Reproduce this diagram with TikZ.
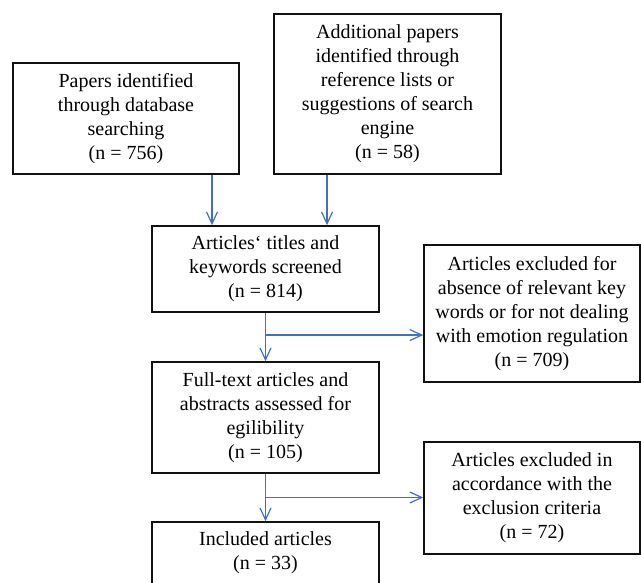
\documentclass[tikz,border=0pt]{standalone}
\usepackage{fontspec}
\setmainfont{Liberation Serif}
\usepackage{xcolor}
\usepackage{tikz}
\usetikzlibrary{positioning, arrows.meta, calc}
\definecolor{flowblue}{HTML}{3F6FC6}
\definecolor{boxline}{HTML}{111111}

\begin{document}
\begin{tikzpicture}[x=1pt, y=-1pt,
  stagebox/.style={draw=boxline, line width=1.5pt, align=center, inner sep=0pt,
    font=\fontsize{20}{24}\selectfont},
  flow/.style={draw=flowblue, line width=1.2pt,
    -{Straight Barb[length=12pt, width=11pt, line width=1.2pt]}}]
  \useasboundingbox (0,0) rectangle (641,582);
  % identification
  \node[stagebox, minimum width=226pt, minimum height=111pt] (dbsearch) at (126,118.5)
    {Papers identified\\through database\\searching\\(n = 756)};
  \node[stagebox, minimum width=227pt, minimum height=160pt] (extra) at (387.5,94)
    {Additional papers\\identified through\\reference lists or\\suggestions of search\\engine\\(n = 58)};
  % screening
  \node[stagebox, minimum width=227pt, minimum height=86pt] (screened) at (265.5,269)
    {Articles‘ titles and\\keywords screened\\(n = 814)};
  \node[stagebox, minimum width=216pt, minimum height=137pt] (exclA) at (532,313.5)
    {Articles excluded for\\absence of relevant key\\words or for not dealing\\with emotion regulation\\(n = 709)};
  % eligibility
  \node[stagebox, minimum width=227pt, minimum height=111pt] (fulltext) at (265.5,417.5)
    {Full-text articles and\\abstracts assessed for\\egilibility\\(n = 105)};
  \node[stagebox, minimum width=216pt, minimum height=112pt] (exclB) at (532,498)
    {Articles excluded in\\accordance with the\\exclusion criteria\\(n = 72)};
  % included
  \node[stagebox, minimum width=227pt, minimum height=62pt] (included) at (265.5,553)
    {Included articles\\(n = 33)};

  \draw[flow] ([xshift=86pt]dbsearch.south) -- ([xshift=86pt]dbsearch.south |- screened.north);
  \draw[flow] ([xshift=-60.5pt]extra.south) -- ([xshift=-60.5pt]extra.south |- screened.north);
  \draw[flow] (screened.south) -- (fulltext.north);
  \coordinate (split1) at ($(screened.south)!0.46!(fulltext.north)$);
  \draw[flow] (split1) -- (split1 -| exclA.west);
  \draw[flow] (fulltext.south) -- (included.north);
  \coordinate (split2) at ($(fulltext.south)!0.5!(included.north)$);
  \draw[flow] (split2) -- (split2 -| exclB.west);
\end{tikzpicture}
\end{document}
